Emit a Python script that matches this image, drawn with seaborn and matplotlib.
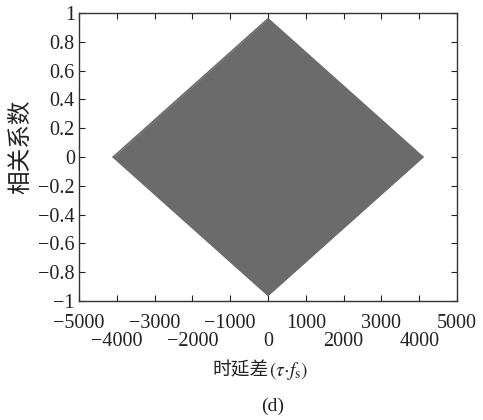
import numpy as np
import pandas as pd
import matplotlib
matplotlib.use("Agg")
import matplotlib.pyplot as plt
import seaborn as sns

# envelope of the correlation coefficient vs. lag
lags = [-4096, 0, 4096]
upper = [0.0, 0.96, 0.0]
lower = [0.0, -0.96, 0.0]

x_ticks_top = [-5000, -3000, -1000, 1000, 3000, 5000]   # first label row
x_ticks_low = [-4000, -2000, 0, 2000, 4000]             # second label row
y_ticks = [-1, -0.8, -0.6, -0.4, -0.2, 0, 0.2, 0.4, 0.6, 0.8, 1]
y_labels = ["\u22121", "\u22120.8", "\u22120.6", "\u22120.4", "\u22120.2", "0",
            "0.2", "0.4", "0.6", "0.8", "1"]

sns.set_style("ticks")
plt.rcParams["font.family"] = ["Liberation Serif", "Noto Sans CJK SC"]
plt.rcParams["mathtext.fontset"] = "stix"

fig = plt.figure(figsize=(4.83, 4.2), dpi=100)
ax = fig.add_axes([0.1636, 0.2833, 0.7826, 0.6857])

df = pd.DataFrame({"lag": lags, "upper": upper, "lower": lower})
fill_color = "#6b6b6b"
ax.fill_between(df["lag"], df["lower"], df["upper"], color=fill_color, lw=0)
sns.lineplot(data=df, x="lag", y="upper", ax=ax, color=fill_color, lw=1.2)
sns.lineplot(data=df, x="lag", y="lower", ax=ax, color=fill_color, lw=1.2)

ax.set_xlim(-5000, 5000)
ax.set_ylim(-1, 1)


def fmt(t):
    return ("\u2212" + str(abs(t))) if t < 0 else str(t)


# staggered x tick labels: odd thousands as major, even as minor ticks
ax.set_xticks(x_ticks_top)
ax.set_xticklabels([fmt(t) for t in x_ticks_top], fontsize=14.5)
ax.set_xticks(x_ticks_low, minor=True)
ax.set_xticklabels([fmt(t) for t in x_ticks_low], minor=True, fontsize=14.5)
ax.set_yticks(y_ticks)
ax.set_yticklabels(y_labels, fontsize=14.5)

ax.tick_params(which="both", direction="in", length=4, width=0.8, top=True,
               right=True, colors="#222222", labelcolor="#222222")
ax.tick_params(axis="x", which="major", pad=9)
ax.tick_params(axis="x", which="minor", pad=22)
ax.tick_params(axis="y", pad=3)
for sp in ax.spines.values():
    sp.set_visible(True)
    sp.set_linewidth(1.0)
    sp.set_color("#333333")
ax.set_xlabel("")
ax.set_ylabel("相关系数", fontsize=17, color="#222222")
ax.yaxis.set_label_coords(-0.124, 0.535)

# x label: Chinese part + math part as two texts
fig.text(0.556, 0.117, "时延差", fontsize=13.5, ha="right", va="center",
         color="#222222")
fig.text(0.556, 0.117, "$(\\tau{\\cdot}f_{\\rm s})$", fontsize=14, ha="left",
         va="center", color="#222222")

fig.text(0.565, 0.022, "(d)", fontsize=14, ha="center", color="#222222")

fig.savefig("out.png", dpi=100)
